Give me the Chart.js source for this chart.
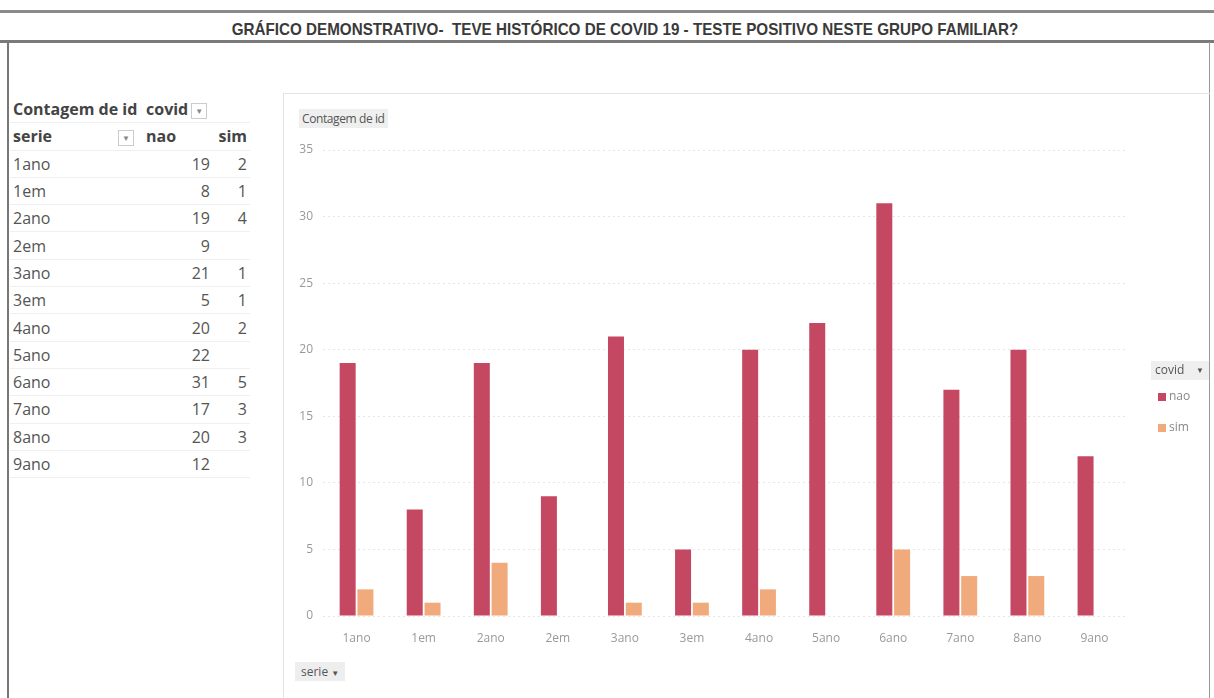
<!DOCTYPE html>
<html>
<head>
<meta charset="utf-8">
<script src="https://cdn.jsdelivr.net/npm/chart.js@4.4.0/dist/chart.umd.min.js"></script>
<style>
  html, body { margin:0; padding:0; background:#fff; }
  body { width:1214px; height:698px; position:relative; overflow:hidden; font-family:"Open Sans","Noto Sans",sans-serif; }
  #topline { position:absolute; left:0; top:10px; width:1214px; height:3px; background:#8a8a8a; }
  #title { position:absolute; left:0; top:20px; width:1250px; text-align:center; font-family:"Liberation Sans Narrow","Liberation Sans",sans-serif; font-weight:bold; font-size:17px; color:#3a3a3a; transform:scaleX(0.895); transform-origin:625px 0; white-space:nowrap; }
  #botline { position:absolute; left:0; top:40px; width:1214px; height:3px; background:#7a7a7a; }
  #leftline { position:absolute; left:7px; top:42px; width:2px; height:656px; background:#777; }
  #rightline { position:absolute; left:1209px; top:42px; width:1px; height:656px; background:#999; }
  #chartbox { position:absolute; left:283px; top:93px; width:926px; height:605px; border-left:1px solid #e4e4e4; border-top:1px solid #e4e4e4; }
  #pivot { position:absolute; left:10px; top:96px; border-collapse:collapse; font-family:"Open Sans","Noto Sans",sans-serif; font-size:16px; color:#555; table-layout:fixed; }
  #pivot td { height:26.3px; padding:0 3px; border-bottom:1px solid #efefef; white-space:nowrap; overflow:visible; }
  #pivot td.b { font-weight:bold; color:#444; }
  #pivot td.n { text-align:right; }
  .dd { display:inline-block; width:14px; height:14px; border:1px solid #ccc; font-size:8px; color:#888; text-align:center; line-height:14px; vertical-align:middle; margin-left:3px; font-weight:normal; }
  #ytitle { position:absolute; left:299px; top:109px; padding:1px 3px; background:#efefef; font-size:12px; color:#555; font-family:"Open Sans",sans-serif; letter-spacing:-0.4px; }
  #xfield { position:absolute; left:295px; top:662px; padding:1px 6px; background:#eeeeee; font-size:12px; color:#555; font-family:"Open Sans",sans-serif; }
  #cv { position:absolute; left:283px; top:93px; }
</style>
</head>
<body>
<div id="topline"></div>
<div id="title">GRÁFICO DEMONSTRATIVO-&nbsp; TEVE HISTÓRICO DE COVID 19 - TESTE POSITIVO NESTE GRUPO FAMILIAR?</div>
<div id="botline"></div>
<div id="leftline"></div>
<div id="rightline"></div>
<div id="chartbox"></div>
<table id="pivot"></table>
<canvas id="cv" width="926" height="605"></canvas>
<div id="ytitle">Contagem de id</div>
<div id="xfield">serie <span style="font-size:8px">&#9660;</span></div>
<script>
const categories = ["1ano","1em","2ano","2em","3ano","3em","4ano","5ano","6ano","7ano","8ano","9ano"];
const naoValues = [19, 8, 19, 9, 21, 5, 20, 22, 31, 17, 20, 12];
const simValues = [2, 1, 4, null, 1, 1, 2, null, 5, 3, 3, null];
const seriesLabels = ["nao", "sim"];
const yTicks = [0, 5, 10, 15, 20, 25, 30, 35];

// pivot table
const tbl = document.getElementById('pivot');
let html = '<colgroup><col style="width:133px"><col style="width:70px"><col style="width:37px"></colgroup>';
html += '<tr><td class="b">Contagem de id</td><td class="b" colspan="2">covid<span class="dd">&#9660;</span></td></tr>';
html += '<tr><td class="b">serie<span class="dd" style="margin-left:66px">&#9660;</span></td><td class="b">nao</td><td class="b n">sim</td></tr>';
categories.forEach((c, i) => {
  html += '<tr><td>' + c + '</td><td class="n">' + naoValues[i] + '</td><td class="n">' + (simValues[i] == null ? '' : simValues[i]) + '</td></tr>';
});
tbl.innerHTML = html;

const legendPlugin = {
  id: 'pivotLegend',
  afterDraw(chart) {
    const ctx = chart.ctx;
    ctx.save();
    ctx.fillStyle = '#efefef';
    ctx.fillRect(868, 268, 58, 19);
    ctx.fillStyle = '#555';
    ctx.font = '12px "Open Sans", sans-serif';
    ctx.textBaseline = 'middle';
    ctx.fillText('covid', 872, 278);
    ctx.font = '8px "Open Sans", sans-serif';
    ctx.fillText('\u25BC', 913, 278);
    chart.data.datasets.forEach((ds, i) => {
      const y = 304 + i * 31;
      ctx.fillStyle = ds.backgroundColor;
      ctx.fillRect(875, y - 4, 8, 8);
      ctx.fillStyle = '#888';
      ctx.font = '12px "Open Sans", sans-serif';
      ctx.fillText(ds.label, 886, y);
    });
    ctx.restore();
  }
};

new Chart(document.getElementById('cv'), {
  type: 'bar',
  data: {
    labels: categories,
    datasets: [
      { label: seriesLabels[0], data: naoValues, backgroundColor: '#c54862', categoryPercentage: 0.53, barPercentage: 0.9 },
      { label: seriesLabels[1], data: simValues, backgroundColor: '#f0aa7c', categoryPercentage: 0.53, barPercentage: 0.9 }
    ]
  },
  options: {
    responsive: false,
    animation: false,
    devicePixelRatio: 1,
    layout: { padding: { left: 0, right: 81, top: 57, bottom: 0 } },
    plugins: { legend: { display: false }, tooltip: { enabled: false } },
    scales: {
      y: {
        min: 0, max: 35,
        afterBuildTicks(scale) { scale.ticks = yTicks.map(v => ({ value: v })); },
        afterFit(scale) { scale.width = 40; },
        ticks: { color: '#999', font: { size: 12, family: '"Open Sans", sans-serif' }, padding: 10 },
        grid: { color: '#e6e6e6', drawTicks: false },
        border: { display: false, dash: [2, 3] }
      },
      x: {
        afterFit(scale) { scale.height = 82; },
        ticks: { color: '#999', font: { size: 12, family: '"Open Sans", sans-serif' }, padding: 7, maxRotation: 0 },
        grid: { display: false },
        border: { display: false }
      }
    }
  },
  plugins: [legendPlugin]
});
</script>
</body>
</html>
